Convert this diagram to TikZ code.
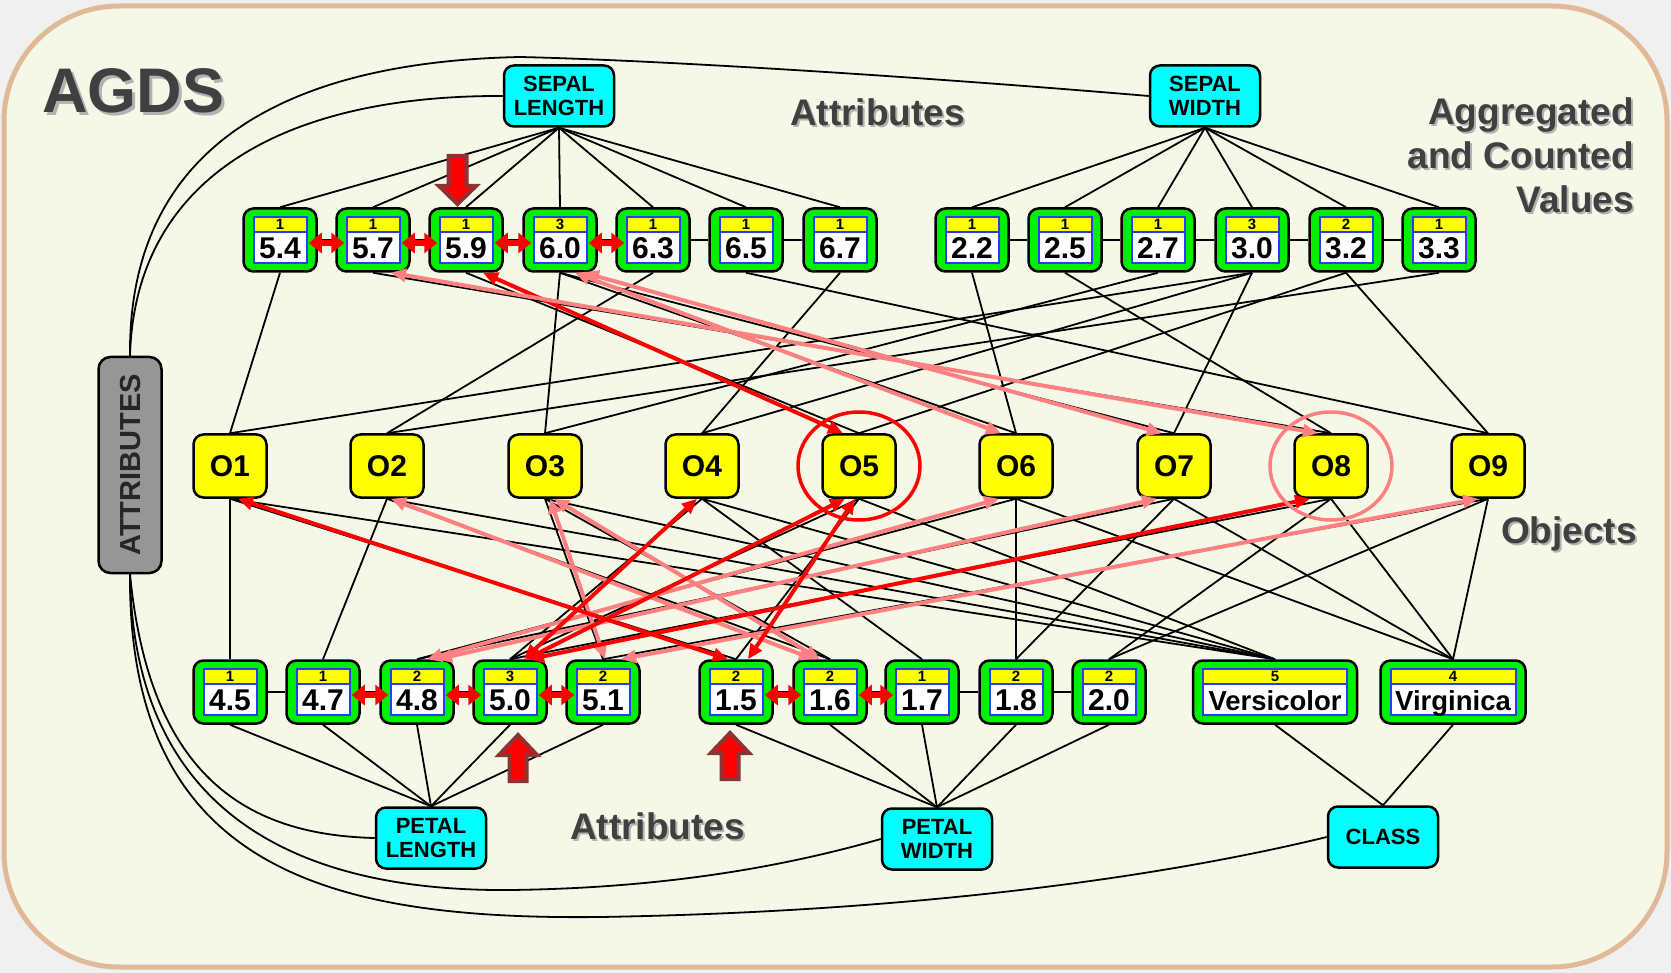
\documentclass[tikz,border=0pt]{standalone}
\usepackage{fontspec}
\setmainfont{Liberation Sans}
\usetikzlibrary{arrows.meta,calc}
\definecolor{bggray}{RGB}{240,240,240}
\definecolor{frametan}{RGB}{224,186,152}
\definecolor{cream}{RGB}{246,248,231}
\definecolor{vgreen}{RGB}{0,238,0}
\definecolor{cyanbox}{RGB}{0,255,255}
\definecolor{objyellow}{RGB}{255,255,0}
\definecolor{attrgray}{RGB}{150,150,150}
\definecolor{titlegray}{RGB}{64,64,64}
\definecolor{pinkarrow}{RGB}{255,128,128}
\definecolor{darkred}{RGB}{140,52,52}
\definecolor{innerblue}{RGB}{40,60,255}
\pgfdeclarelayer{back}\pgfdeclarelayer{bg}\pgfdeclarelayer{front}
\pgfsetlayers{back,bg,main,front}
\tikzset{
  valbox/.style={draw=black, line width=2.5pt, fill=vgreen, rounded corners=10pt, minimum height=63pt, inner sep=0pt},
  cnttext/.style={inner sep=0pt, font=\fontsize{15}{15}\selectfont\bfseries, text height=10.5pt, text depth=0pt},
  valtext/.style={inner sep=0pt, font=\fontsize{30}{30}\selectfont\bfseries, text height=21.5pt, text depth=0pt},
  attrbox/.style={draw=black, line width=2.5pt, fill=cyanbox, rounded corners=10pt, minimum width=110pt, minimum height=61pt, inner sep=0pt, align=center, font=\fontsize{22}{24}\selectfont\bfseries},
  objbox/.style={draw=black, line width=2.5pt, fill=objyellow, rounded corners=10pt, minimum width=73pt, minimum height=63pt, inner sep=0pt, font=\fontsize{30}{30}\selectfont\bfseries},
  titletext/.style={inner sep=0pt, text=titlegray, font=\fontsize{37}{45}\selectfont\bfseries},
  shadowtext/.style={inner sep=0pt, text=black!30, font=\fontsize{37}{45}\selectfont\bfseries},
  conn/.style={draw=black, line width=1.8pt},
  hl/.style={line width=4pt, {Triangle[length=15pt,width=13pt]}-{Triangle[length=15pt,width=13pt]}},
  redhl/.style={hl, draw=red, fill=red},
  pinkhl/.style={hl, draw=pinkarrow, fill=pinkarrow},
  chainarr/.style={draw=red, fill=red, line width=5.5pt, {Triangle[length=13pt,width=20pt]}-{Triangle[length=13pt,width=20pt]}},
  blockarr/.style={fill=red, draw=darkred, line width=4pt, line join=miter},
}
\newcommand\valnode[6]{%
  \node[valbox, minimum width={2*#6}] (#1) at (#2,#3) {};
  \fill[white] ({#2-#6+10},{#3-8}) rectangle ({#2+#6-10},{#3+23});
  \fill[objyellow] ({#2-#6+10},{#3-23}) rectangle ({#2+#6-10},{#3-8});
  \draw[innerblue, line width=2pt] ({#2-#6+10},{#3-23}) rectangle ({#2+#6-10},{#3+23});
  \draw[innerblue, line width=1.5pt] ({#2-#6+10},{#3-8}) -- ({#2+#6-10},{#3-8});
  \node[cnttext] (#1c) at (#2,{#3-15.5}) {#4};
  \node[valtext] (#1v) at (#2,{#3+7.5}) {#5};
}
\begin{document}
\begin{tikzpicture}[x=1pt,y=-1pt]
\useasboundingbox (0,0) rectangle (1671,973);
\begin{pgfonlayer}{back}
  \fill[bggray] (0,0) rectangle (1671,973);
  \draw[frametan, line width=5pt, fill=cream, rounded corners=115pt] (4,6) rectangle (1667,967);
\end{pgfonlayer}

% titles
\node[inner sep=0pt, text=black!30, font=\fontsize{63}{63}\selectfont\bfseries, anchor=base west] (agdss) at (45,116) {AGDS};
\node[inner sep=0pt, text=titlegray, font=\fontsize{63}{63}\selectfont\bfseries, anchor=base west] (agds) at (42,113) {AGDS};
\node[shadowtext, anchor=base west] (attrtops) at (792,128) {Attributes};
\node[titletext, anchor=base west] (attrtop) at (790,126) {Attributes};
\node[shadowtext, anchor=base east] (agg1s) at (1636,127) {Aggregated};
\node[titletext, anchor=base east] (agg1) at (1634,125) {Aggregated};
\node[shadowtext, anchor=base east] (agg2s) at (1636,171) {and Counted};
\node[titletext, anchor=base east] (agg2) at (1634,169) {and Counted};
\node[shadowtext, anchor=base east] (agg3s) at (1636,215) {Values};
\node[titletext, anchor=base east] (agg3) at (1634,213) {Values};
\node[shadowtext, anchor=base east] (objlbls) at (1639,545) {Objects};
\node[titletext, anchor=base east] (objlbl) at (1637,543) {Objects};
\node[shadowtext, anchor=base west] (attrbots) at (572,841) {Attributes};
\node[titletext, anchor=base west] (attrbot) at (570,839) {Attributes};

% attribute nodes
\node[attrbox] (sl) at (559,96) {SEPAL\\LENGTH};
\node[attrbox] (sw) at (1205,96) {SEPAL\\WIDTH};
\node[attrbox] (pl) at (431,838) {PETAL\\LENGTH};
\node[attrbox] (pw) at (937,839) {PETAL\\WIDTH};
\node[attrbox] (cl) at (1383,837) {CLASS};
\node[draw=black, line width=2.5pt, fill=attrgray, rounded corners=12pt, minimum width=63pt, minimum height=216pt, inner sep=0pt] (attr) at (130,465) {};
\node[inner sep=0pt, rotate=90, text=black!85, font=\fontsize{29}{29}\selectfont\bfseries] (attrtext) at (131,465) {ATTRIBUTES};

% value nodes
\valnode{v54}{280}{240}{1}{5.4}{36.5}
\valnode{v57}{373}{240}{1}{5.7}{36.5}
\valnode{v59}{466}{240}{1}{5.9}{36.5}
\valnode{v60}{560}{240}{3}{6.0}{36.5}
\valnode{v63}{653}{240}{1}{6.3}{36.5}
\valnode{v65}{746}{240}{1}{6.5}{36.5}
\valnode{v67}{840}{240}{1}{6.7}{36.5}
\valnode{w22}{972}{240}{1}{2.2}{36.5}
\valnode{w25}{1065}{240}{1}{2.5}{36.5}
\valnode{w27}{1158}{240}{1}{2.7}{36.5}
\valnode{w30}{1252}{240}{3}{3.0}{36.5}
\valnode{w32}{1346}{240}{2}{3.2}{36.5}
\valnode{w33}{1439}{240}{1}{3.3}{36.5}
\valnode{p45}{230}{692}{1}{4.5}{36.5}
\valnode{p47}{323}{692}{1}{4.7}{36.5}
\valnode{p48}{417}{692}{2}{4.8}{36.5}
\valnode{p50}{510}{692}{3}{5.0}{36.5}
\valnode{p51}{603}{692}{2}{5.1}{36.5}
\valnode{q15}{736}{692}{2}{1.5}{36.5}
\valnode{q16}{830}{692}{2}{1.6}{36.5}
\valnode{q17}{922}{692}{1}{1.7}{36.5}
\valnode{q18}{1016}{692}{2}{1.8}{36.5}
\valnode{q20}{1109}{692}{2}{2.0}{36.5}
\valnode{ver}{1275}{692}{5}{{\fontsize{27.5}{27.5}\selectfont Versicolor}}{82}
\valnode{vir}{1453}{692}{4}{{\fontsize{27.5}{27.5}\selectfont Virginica}}{72.5}

% objects
\node[objbox] (O1) at (230,466) {O1};
\node[objbox] (O2) at (387,466) {O2};
\node[objbox] (O3) at (545,466) {O3};
\node[objbox] (O4) at (702,466) {O4};
\node[objbox] (O5) at (859,466) {O5};
\node[objbox] (O6) at (1016,466) {O6};
\node[objbox] (O7) at (1174,466) {O7};
\node[objbox] (O8) at (1331,466) {O8};
\node[objbox] (O9) at (1488,466) {O9};

\coordinate (swvia) at (520,57);
\coordinate (pwvia) at (510,890);
\coordinate (clvia) at (600,917);

\begin{pgfonlayer}{bg}
  % attribute curves
  \draw[conn] (attr.north) .. controls (135,180) and (280,95) .. (sl.west);
  \draw[conn] (attr.north) .. controls (128,150) and (280,62) .. (swvia) .. controls (650,60) and (900,75) .. (sw.west);
  \draw[conn] (attr.south) .. controls (150,780) and (250,835) .. (pl.west);
  \draw[conn] (attr.south) .. controls (133,800) and (280,892) .. (pwvia) .. controls (680,888) and (800,862) .. (pw.west);
  \draw[conn] (attr.south) .. controls (128,870) and (330,920) .. (clvia) .. controls (900,912) and (1150,880) .. (cl.west);
  % attribute to values
  \foreach \v in {v54,v57,v59,v60,v63,v65,v67} \draw[conn] (sl.south) -- (\v.north);
  \foreach \v in {w22,w25,w27,w30,w32,w33} \draw[conn] (sw.south) -- (\v.north);
  \foreach \v in {p45,p47,p48,p50,p51} \draw[conn] (pl.north) -- (\v.south);
  \foreach \v in {q15,q16,q17,q18,q20} \draw[conn] (pw.north) -- (\v.south);
  \foreach \v in {ver,vir} \draw[conn] (cl.north) -- (\v.south);
  % chains
  \foreach \a/\b in {v54/v57,v57/v59,v59/v60,v60/v63,v63/v65,v65/v67,w22/w25,w25/w27,w27/w30,w30/w32,w32/w33,p45/p47,p47/p48,p48/p50,p50/p51,q15/q16,q16/q17,q17/q18,q18/q20}
    \draw[conn] (\a.east) -- (\b.west);
  % values to objects (top)
  \foreach \a/\b in {v54/O1,v57/O8,v59/O5,v60/O3,v60/O6,v60/O7,v63/O2,v65/O9,v67/O4,w22/O6,w25/O8,w27/O3,w30/O1,w30/O4,w30/O7,w32/O5,w32/O9,w33/O2}
    \draw[conn] (\a.south) -- (\b.north);
  % objects to values (bottom)
  \foreach \a/\b in {O1/p45,O2/p47,O6/p48,O7/p48,O4/p50,O5/p50,O8/p50,O3/p51,O9/p51,O1/q15,O5/q15,O2/q16,O3/q16,O4/q17,O6/q18,O7/q18,O8/q20,O9/q20,O1/ver,O2/ver,O3/ver,O4/ver,O5/ver,O6/vir,O7/vir,O8/vir,O9/vir}
    \draw[conn] (\a.south) -- (\b.north);
\end{pgfonlayer}

\begin{pgfonlayer}{front}
  % chain double arrows
  \foreach \a/\b in {v54/v57,v57/v59,v59/v60,v60/v63,p47/p48,p48/p50,p50/p51,q15/q16,q16/q17}
    \draw[chainarr] ([xshift=-9pt,yshift=-3pt]\a.east) -- ([xshift=9pt,yshift=-3pt]\b.west);
  % highlighted top arrows
  \draw[redhl] ([xshift=17pt]v59.south) -- ([xshift=-16pt]O5.north);
  \draw[pinkhl] ([xshift=18pt]v57.south) -- ([xshift=-13pt]O8.north);
  \draw[pinkhl] ([xshift=15pt]v60.south) -- ([xshift=-15pt]O6.north);
  \draw[pinkhl] ([xshift=24pt]v60.south) -- ([xshift=-12pt]O7.north);
  % highlighted bottom arrows
  \draw[pinkhl] ([xshift=-17pt]O6.south) -- ([xshift=10pt]p48.north);
  \draw[pinkhl] ([xshift=-17pt]O7.south) -- ([xshift=20pt]p48.north);
  \draw[pinkhl] ([xshift=5pt]O3.south) -- ([xshift=2pt]p51.north);
  \draw[pinkhl] ([xshift=-10pt]O9.south) -- ([xshift=18pt]p51.north);
  \draw[pinkhl] ([xshift=4pt]O2.south) -- ([xshift=-16pt]q16.north);
  \draw[pinkhl] ([xshift=9pt]O3.south) -- ([xshift=-10pt]q16.north);
  \draw[redhl] ([xshift=8pt]O1.south) -- ([xshift=-8pt]q15.north);
  \draw[redhl] ([xshift=-5pt]O4.south) -- ([xshift=14pt]p50.north);
  \draw[redhl] ([xshift=-14pt]O5.south) -- ([xshift=16pt]p50.north);
  \draw[redhl] ([xshift=-21pt]O8.south) -- ([xshift=19pt]p50.north);
  \draw[redhl] ([xshift=-4pt]O5.south) -- ([xshift=12pt]q15.north);
  % circles
  \draw[red, line width=3.5pt] (O5) ellipse [x radius=61pt, y radius=54pt];
  \draw[pinkarrow, line width=3.5pt] (O8) ellipse [x radius=61pt, y radius=54pt];
  % block arrows
  \draw[blockarr] (448.5,156) -- (466.5,156) -- (466.5,186) -- (476,186) -- (457.5,204) -- (439,186) -- (448.5,186) -- cycle;
  \draw[blockarr] (509.5,781) -- (526.5,781) -- (526.5,755) -- (537,755) -- (518,735) -- (499,755) -- (509.5,755) -- cycle;
  \draw[blockarr] (721.5,779) -- (738.5,779) -- (738.5,753) -- (749,753) -- (730,733) -- (711,753) -- (721.5,753) -- cycle;
\end{pgfonlayer}
\end{tikzpicture}
\end{document}
